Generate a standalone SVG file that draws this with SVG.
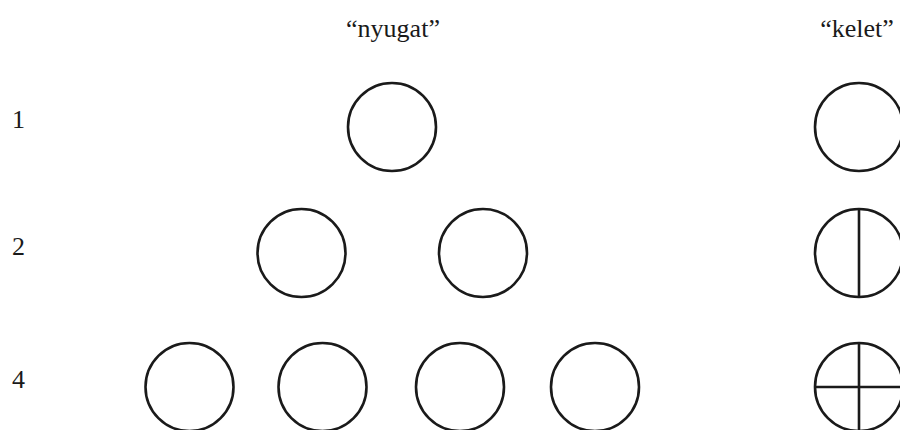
<svg xmlns="http://www.w3.org/2000/svg" width="900" height="430" viewBox="0 0 900 430">
<style>
.c{fill:none;stroke:#1a1a1a;stroke-width:2.6}
.l{stroke:#1a1a1a;stroke-width:2.6}
.t{font-family:"Liberation Serif","Times New Roman",serif;font-size:26px;fill:#1a1a1a}
.h{text-anchor:middle}
</style>
<rect width="900" height="430" fill="#fff"/>
<g id="headers">
<text class="t h" x="393" y="37">“nyugat”</text>
<text class="t h" x="857" y="37">“kelet”</text>
</g>
<g id="row-labels">
<text class="t" x="12" y="128">1</text>
<text class="t" x="12" y="255">2</text>
<text class="t" x="12" y="388">4</text>
</g>
<g id="west-1"><circle class="c" cx="392" cy="127" r="44"/></g>
<g id="west-2a"><circle class="c" cx="301.5" cy="253" r="44"/></g>
<g id="west-2b"><circle class="c" cx="483" cy="253" r="44"/></g>
<g id="west-4a"><circle class="c" cx="189.5" cy="387" r="44"/></g>
<g id="west-4b"><circle class="c" cx="322.5" cy="387" r="44"/></g>
<g id="west-4c"><circle class="c" cx="460" cy="387" r="44"/></g>
<g id="west-4d"><circle class="c" cx="595" cy="387" r="44"/></g>
<g id="east-1"><circle class="c" cx="859" cy="127" r="44"/></g>
<g id="east-2"><circle class="c" cx="859" cy="253" r="44"/><line class="l" x1="859" y1="209" x2="859" y2="297"/></g>
<g id="east-4"><circle class="c" cx="859" cy="387" r="44"/><line class="l" x1="859" y1="343" x2="859" y2="431"/><line class="l" x1="815" y1="387" x2="903" y2="387"/></g>
</svg>
